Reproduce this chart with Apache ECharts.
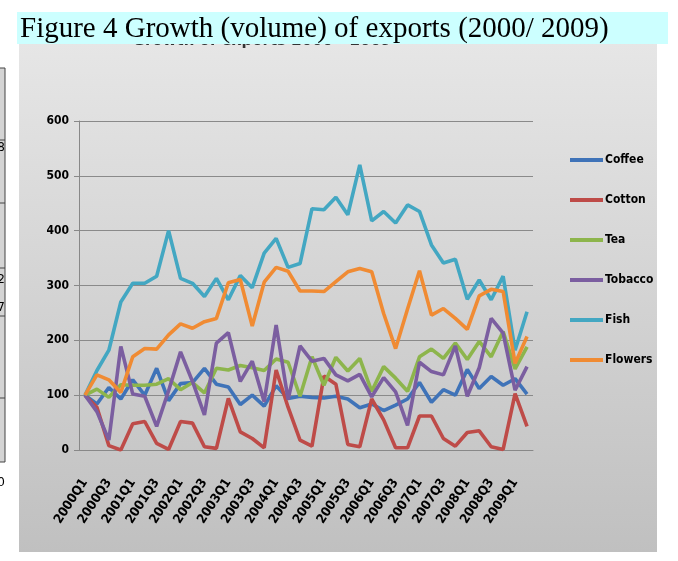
<!DOCTYPE html>
<html>
<head>
<meta charset="utf-8">
<script src="https://cdn.jsdelivr.net/npm/echarts@6/dist/echarts.min.js"></script>
<style>
  html, body { margin: 0; padding: 0; background: #fff; }
  #chart { width: 678px; height: 561px; }
</style>
</head>
<body>
<div id="chart"></div>
<script>
const quarters = [
  '2000Q1', '2000Q2', '2000Q3', '2000Q4', '2001Q1', '2001Q2', '2001Q3', '2001Q4',
  '2002Q1', '2002Q2', '2002Q3', '2002Q4', '2003Q1', '2003Q2', '2003Q3', '2003Q4',
  '2004Q1', '2004Q2', '2004Q3', '2004Q4', '2005Q1', '2005Q2', '2005Q3', '2005Q4',
  '2006Q1', '2006Q2', '2006Q3', '2006Q4', '2007Q1', '2007Q2', '2007Q3', '2007Q4',
  '2008Q1', '2008Q2', '2008Q3', '2008Q4', '2009Q1', '2009Q2'
];
const coffee = [100, 84, 114, 93, 128, 100, 149, 90, 121, 123, 149, 120, 115, 83, 100, 80, 117, 94, 98, 96,
  95, 98, 93, 77, 84, 72, 82, 93, 123, 87, 110, 100, 147, 112, 134, 118, 130, 102];
const cotton = [100, 78, 8, 0, 48, 52, 12, 1, 52, 49, 6, 3, 94, 33, 21, 4, 146, 78, 18, 7,
  135, 120, 10, 6, 93, 55, 4, 4, 62, 62, 21, 7, 32, 35, 6, 1, 103, 43];
const tea = [100, 111, 96, 119, 118, 118, 120, 130, 110, 123, 104, 149, 146, 154, 150, 145, 166, 160, 98, 170,
  118, 169, 144, 167, 107, 152, 131, 107, 170, 184, 167, 195, 165, 198, 170, 216, 148, 188];
const tobacco = [100, 70, 18, 189, 102, 98, 43, 108, 179, 125, 64, 195, 214, 125, 162, 88, 228, 92, 190, 162,
  167, 137, 126, 138, 97, 132, 106, 45, 160, 143, 137, 190, 98, 150, 240, 213, 109, 152];
const fish = [100, 145, 182, 270, 304, 304, 317, 400, 313, 304, 280, 313, 274, 318, 296, 359, 386, 333, 340, 440,
  438, 461, 429, 520, 418, 435, 414, 447, 435, 374, 341, 348, 275, 310, 274, 317, 182, 252];
const flowers = [100, 137, 128, 105, 170, 185, 184, 210, 230, 222, 234, 240, 305, 311, 226, 306, 333, 326, 290, 290,
  289, 307, 325, 331, 325, 249, 185, 257, 327, 246, 258, 240, 220, 281, 293, 289, 158, 207];
const yTicks = [0, 100, 200, 300, 400, 500, 600];

const names = ['Coffee', 'Cotton', 'Tea', 'Tobacco', 'Fish', 'Flowers'];
const values = [coffee, cotton, tea, tobacco, fish, flowers];
const colors = ['#3f73b8', '#be4b48', '#8db54c', '#7b5ea0', '#43a7c2', '#f08b33'];

const axisFont = '"DejaVu Sans Condensed", sans-serif';

let chart = echarts.init(document.getElementById('chart'));

let option = {
  backgroundColor: '#fff',
  animation: false,
  color: colors,
  grid: { left: 79, right: 145, top: 121, height: 329 },
  legend: {
    orient: 'vertical',
    left: 565,
    top: 149,
    itemGap: 28,
    icon: 'rect',
    itemWidth: 33,
    itemHeight: 4,
    data: names,
    textStyle: { fontFamily: axisFont, fontWeight: 'bold', fontSize: 12, lineHeight: 12, color: '#000', padding: [0, 0, 0, -3] }
  },
  xAxis: {
    type: 'category',
    data: quarters,
    axisLine: { lineStyle: { color: '#888', width: 1 } },
    axisTick: { interval: 0, length: 5, lineStyle: { color: '#888' } },
    axisLabel: {
      interval: 1,
      rotate: 57,
      margin: 30,
      fontFamily: axisFont,
      fontWeight: 'bold',
      fontSize: 13,
      color: '#000'
    }
  },
  yAxis: {
    type: 'value',
    min: yTicks[0],
    max: yTicks[yTicks.length - 1],
    interval: 100,
    axisLine: { show: true, lineStyle: { color: '#888', width: 1 } },
    axisTick: { show: true, length: 5, lineStyle: { color: '#888' } },
    splitLine: { lineStyle: { color: '#8a8a8a', width: 1 } },
    axisLabel: { margin: 10, fontFamily: axisFont, fontWeight: 'bold', fontSize: 12, color: '#000' }
  },
  series: names.map((n, k) => ({
    name: n,
    type: 'line',
    data: values[k],
    symbol: 'none',
    lineStyle: { width: 3.6, color: colors[k] },
    itemStyle: { color: colors[k] }
  })),
  graphic: [
    // grey chart panel
    {
      type: 'rect', z: -10,
      shape: { x: 19, y: 30, width: 638, height: 522 },
      style: {
        fill: new echarts.graphic.LinearGradient(0, 0, 0, 1, [
          { offset: 0, color: '#e7e7e7' },
          { offset: 1, color: '#c0c0c0' }
        ])
      }
    },
    // bit of the original chart title peeking below the band
    {
      type: 'text', z: -5,
      style: { x: 262, y: 41, text: 'Growth of exports 2000 - 2009', textAlign: 'center', textVerticalAlign: 'middle',
        font: 'bold 15px "DejaVu Sans"', fill: '#333' }
    },
    {
      type: 'rect', z: 10,
      shape: { x: 17, y: 12, width: 651, height: 32 },
      style: { fill: '#ccffff' }
    },
    {
      type: 'text', z: 11,
      style: { x: 20, y: 29, text: 'Figure 4 Growth (volume) of exports (2000/ 2009)', textVerticalAlign: 'middle',
        font: '29px "Liberation Serif", "DejaVu Serif", serif', fill: '#000' }
    },
    // cut-off table at the left edge
    {
      type: 'rect', z: -5,
      shape: { x: -10, y: 68, width: 15, height: 394 },
      style: { fill: '#d4d4d4', stroke: '#444', lineWidth: 1 }
    },
    { type: 'line', z: -4, shape: { x1: 0, y1: 140, x2: 5, y2: 140 }, style: { stroke: '#444' } },
    { type: 'line', z: -4, shape: { x1: 0, y1: 203, x2: 5, y2: 203 }, style: { stroke: '#444' } },
    { type: 'line', z: -4, shape: { x1: 0, y1: 268, x2: 5, y2: 268 }, style: { stroke: '#444' } },
    { type: 'line', z: -4, shape: { x1: 0, y1: 316, x2: 5, y2: 316 }, style: { stroke: '#444' } },
    { type: 'line', z: -4, shape: { x1: 0, y1: 398, x2: 5, y2: 398 }, style: { stroke: '#444' } },
    { type: 'text', z: -3, style: { x: 5, y: 148, text: '8', textAlign: 'right', textVerticalAlign: 'middle', font: '12px "DejaVu Sans"', fill: '#000' } },
    { type: 'text', z: -3, style: { x: 5, y: 280, text: '.2', textAlign: 'right', textVerticalAlign: 'middle', font: '12px "DejaVu Sans"', fill: '#000' } },
    { type: 'text', z: -3, style: { x: 5, y: 308, text: '7', textAlign: 'right', textVerticalAlign: 'middle', font: '12px "DejaVu Sans"', fill: '#000' } },
    { type: 'text', z: -3, style: { x: 5, y: 483, text: '0', textAlign: 'right', textVerticalAlign: 'middle', font: '12px "DejaVu Sans"', fill: '#000' } }
  ]
};

chart.setOption(option);
</script>
</body>
</html>
